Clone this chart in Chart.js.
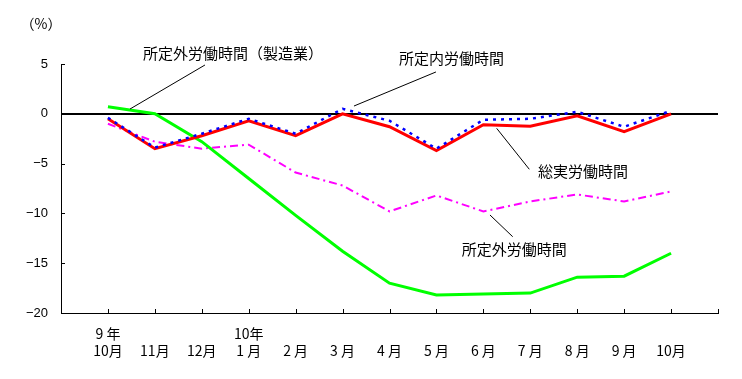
<!DOCTYPE html>
<html>
<head>
<meta charset="utf-8">
<script src="https://cdn.jsdelivr.net/npm/chart.js@4/dist/chart.umd.min.js"></script>
<style>
html,body{margin:0;padding:0;background:#fff;}
canvas{display:block;}
</style>
</head>
<body>
<canvas id="c" width="742" height="379"></canvas>
<script>
// ---- data ----
const categories = [["9 年","10月"],["","11月"],["","12月"],["10年","1 月"],["","2 月"],["","3 月"],["","4 月"],["","5 月"],["","6 月"],["","7 月"],["","8 月"],["","9 月"],["","10月"]];
const totalHours     = [-0.5,-3.5,-2.2,-0.7,-2.2, 0.0,-1.3,-3.7,-1.1,-1.25,-0.2,-1.8, 0.0];
const scheduledHours = [-0.4,-3.4,-2.0,-0.5,-2.0, 0.5,-0.7,-3.5,-0.6,-0.5, 0.2,-1.3, 0.3];
const overtimeHours  = [-1.0,-2.8,-3.5,-3.1,-5.9,-7.2,-9.8,-8.2,-9.8,-8.8,-8.1,-8.8,-7.8];
const mfgOvertime    = [ 0.7, 0.0,-2.8,-6.5,-10.2,-13.8,-17.0,-18.2,-18.1,-18.0,-16.4,-16.3,-14.0];
const yTicks = [5, 0, -5, -10, -15, -20];
const seriesNames = ["所定内労働時間","総実労働時間","所定外労働時間（製造業）","所定外労働時間"];
const unitLabel = "（%）";

// annotations: text anchor and leader line, in data coordinates (category index, value)
const annotations = [
  {text: seriesNames[2], tx: 1.747, ty: 6.1, l: [3.068, 4.9, 1.470, 0.48]},
  {text: seriesNames[0], tx: 7.202, ty: 5.6, l: [7.99, 4.2, 6.243, 0.78]},
  {text: seriesNames[1], tx: 10.164, ty: -5.74, l: [9.284, -1.46, 9.979, -5.57]},
  {text: seriesNames[3], tx: 8.538, ty: -13.57, l: [9.141, -10.16, 9.625, -12.34]}
];

// padded labels: one empty slot before and after
const labels = [["",""]].concat(categories, [["",""]]);
const pad = arr => [null].concat(arr, [null]);

const annotPlugin = {
  id: 'annot',
  afterDraw(chart) {
    const ctx = chart.ctx, x = chart.scales.x, y = chart.scales.y, a = chart.chartArea;
    ctx.save();
    // inward ticks
    ctx.strokeStyle = '#000'; ctx.lineWidth = 1;
    ctx.beginPath();
    for (let i = 0; i < x.ticks.length; i++) {
      const px = Math.round(x.getPixelForTick(i)) + 0.5;
      ctx.moveTo(px, a.bottom); ctx.lineTo(px, a.bottom - 4);
    }
    for (let i = 0; i < y.ticks.length; i++) {
      const py = Math.round(y.getPixelForTick(i)) + 0.5;
      ctx.moveTo(a.left, py); ctx.lineTo(a.left + 4, py);
    }
    ctx.stroke();
    // annotations
    ctx.fillStyle = '#000';
    ctx.font = '15px "Noto Sans CJK JP"';
    ctx.textBaseline = 'middle';
    ctx.textAlign = 'left';
    for (const an of annotations) {
      ctx.fillText(an.text, x.getPixelForValue(an.tx), y.getPixelForValue(an.ty));
      ctx.beginPath();
      ctx.moveTo(x.getPixelForValue(an.l[0]), y.getPixelForValue(an.l[1]));
      ctx.lineTo(x.getPixelForValue(an.l[2]), y.getPixelForValue(an.l[3]));
      ctx.stroke();
    }
    // unit label
    ctx.font = '14px "Noto Sans CJK JP"';
    ctx.textAlign = 'center';
    ctx.fillText(unitLabel, a.left - 20, 24);
    ctx.restore();
  }
};

new Chart(document.getElementById('c'), {
  type: 'line',
  data: {
    labels: labels,
    datasets: [
      {label: seriesNames[0], data: pad(scheduledHours), borderColor: '#0000ff', borderWidth: 2.5, borderDash: [3,5], pointRadius: 0, tension: 0, fill: false},
      {label: seriesNames[1], data: pad(totalHours), borderColor: '#ff0000', borderWidth: 3, pointRadius: 0, tension: 0, fill: false},
      {label: seriesNames[2], data: pad(mfgOvertime), borderColor: '#00ff00', borderWidth: 3, pointRadius: 0, tension: 0, fill: false},
      {label: seriesNames[3], data: pad(overtimeHours), borderColor: '#ff00ff', borderWidth: 2, borderDash: [8,4,2,4], pointRadius: 0, tension: 0, fill: false}
    ]
  },
  options: {
    responsive: false,
    animation: false,
    devicePixelRatio: 1,
    layout: {padding: {top: 64, right: 24, left: 0, bottom: 0}},
    plugins: {legend: {display: false}, tooltip: {enabled: false}, title: {display: false}},
    scales: {
      x: {
        type: 'category',
        offset: false,
        grid: {display: true, drawOnChartArea: false, drawTicks: false},
        border: {display: true, color: '#000', width: 1},
        ticks: {color: '#000', font: {family: '"Noto Sans CJK JP"', size: 14}, padding: 12, maxRotation: 0, autoSkip: false},
        afterFit(s) { s.height = 66; }
      },
      y: {
        min: -20, max: 5,
        afterBuildTicks(s) { s.ticks = yTicks.map(v => ({value: v})); },
        grid: {
          drawTicks: false,
          color: c => (c.tick && c.tick.value === 0) ? '#000' : 'rgba(0,0,0,0)',
          lineWidth: c => (c.tick && c.tick.value === 0) ? 2 : 0
        },
        border: {display: true, color: '#000', width: 1},
        ticks: {
          color: '#000', padding: 13,
          font: {family: '"Liberation Sans"', size: 13},
          callback: v => v < 0 ? '\u2212' + Math.abs(v) : String(v)
        },
        afterFit(s) { s.width = 61; }
      }
    }
  },
  plugins: [annotPlugin]
});
</script>
</body>
</html>
